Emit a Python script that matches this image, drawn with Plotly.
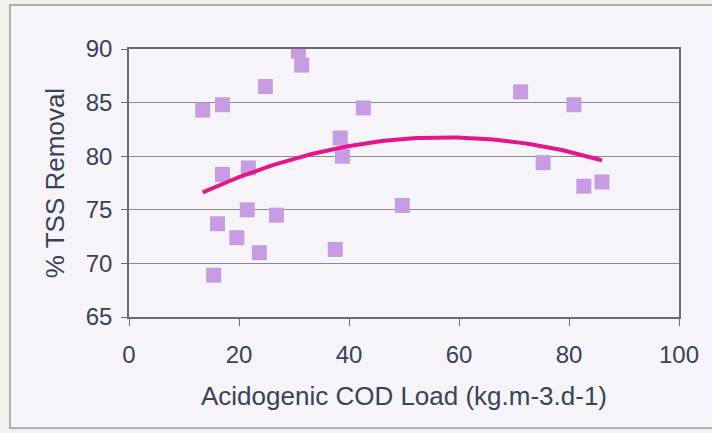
import numpy as np
import plotly.graph_objects as go

cod_load = [13.4, 17.0, 24.8, 30.8, 31.4, 42.6, 38.4, 38.8, 17.0, 21.7, 21.5, 26.8,
            16.1, 19.6, 23.7, 37.5, 15.4, 49.7, 71.2, 80.9, 75.3, 82.7, 86.0]
tss_removal = [84.3, 84.8, 86.5, 89.8, 88.5, 84.5, 81.7, 80.0, 78.3, 78.9, 75.0, 74.5,
               73.7, 72.4, 71.0, 71.3, 68.9, 75.4, 86.0, 84.8, 79.4, 77.2, 77.6]

x_ticks = [0, 20, 40, 60, 80, 100]
y_ticks = [65, 70, 75, 80, 85, 90]

# quadratic trend line (least squares, like the spreadsheet trendline)
coef = np.polyfit(cod_load, tss_removal, 2)
xt = np.linspace(min(cod_load), max(cod_load), 100)
yt = np.polyval(coef, xt)

font = "Liberation Sans, Arial, sans-serif"
tick_col = "#3a4256"
grid_col = "#8a8a90"

fig = go.Figure()
fig.add_trace(go.Scatter(x=cod_load, y=tss_removal, mode="markers",
                         marker=dict(symbol="square", size=15, color="#c79ce3",
                                     line=dict(width=0)),
                         showlegend=False))
fig.add_trace(go.Scatter(x=xt, y=yt, mode="lines",
                         line=dict(color="#e3168c", width=4),
                         showlegend=False))

fig.update_layout(
    width=712, height=433,
    margin=dict(l=129, r=33, t=49, b=116),
    paper_bgcolor="#f3f0ec",
    plot_bgcolor="#f7f6fb",
    font=dict(family=font, size=24, color=tick_col),
    shapes=[dict(type="rect", xref="paper", yref="paper", layer="below",
                 x0=-0.2164, x1=1.08, y0=-0.414, y1=1.164,
                 line=dict(color="#9a9aa0", width=1.5), fillcolor="#f6f4f8")],
)
fig.update_xaxes(range=[0, 100], tickvals=x_ticks, ticks="outside", ticklen=7,
                 tickcolor="#6a6a72", showline=True, linecolor="#6a6a72", linewidth=1.5,
                 mirror=True, showgrid=False, zeroline=False,
                 ticklabelstandoff=8,
                 tickfont=dict(size=24, color=tick_col),
                 title=dict(text="Acidogenic COD Load (kg.m-3.d-1)",
                            font=dict(size=26, color=tick_col), standoff=20))
fig.update_yaxes(range=[65, 90], tickvals=y_ticks, ticks="outside", ticklen=6,
                 tickcolor="#6a6a72", showline=True, linecolor="#6a6a72", linewidth=1.5,
                 mirror=True, showgrid=True, gridcolor=grid_col, gridwidth=1,
                 zeroline=False, ticklabelstandoff=4,
                 tickfont=dict(size=24, color=tick_col),
                 title=dict(text="% TSS Removal", font=dict(size=26, color=tick_col),
                            standoff=14))

fig.write_html("out.html")
